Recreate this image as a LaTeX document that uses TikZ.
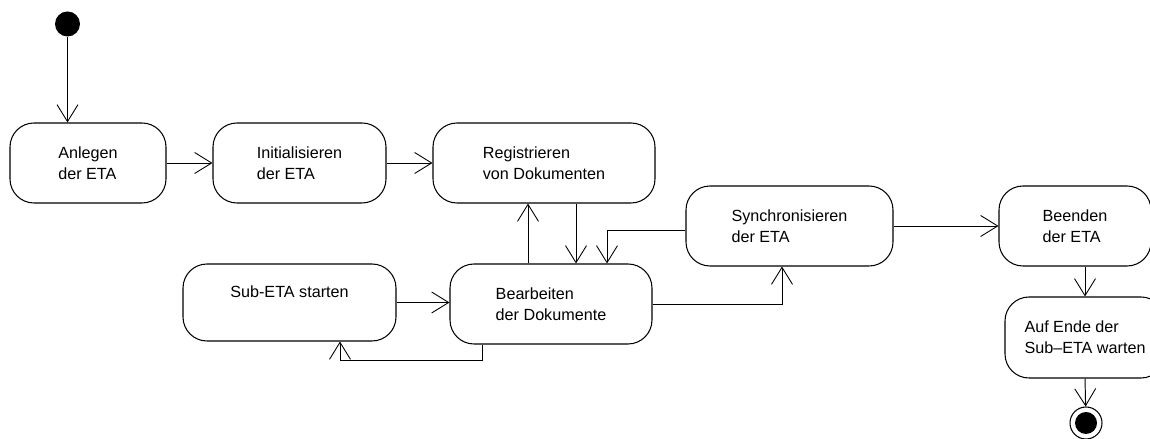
\documentclass[tikz,border=0pt]{standalone}
\usepackage{fontspec}
\setmainfont{Liberation Sans}
\usetikzlibrary{arrows.meta, positioning, calc}

\begin{document}
\begin{tikzpicture}[
    x=1cm, y=1cm,
    every node/.style={font=\fontsize{9.2}{12}\selectfont, align=left, text=black},
    action/.style={
      rectangle, rounded corners=0.48cm,
      draw=black, fill=white, line width=0.6pt,
      minimum height=1.60cm
    },
    startDot/.style={circle, fill=black, inner sep=0pt, minimum size=0.50cm},
    endDot/.style={
      circle, draw=black, fill=white, line width=0.6pt, inner sep=0pt, minimum size=0.64cm,
      path picture={\fill[black] (path picture bounding box.center) circle (0.22);}
    },
    flow/.style={-{Straight Barb[length=0.34cm, width=0.42cm, line width=0.5pt]}, draw=black, line width=0.55pt}
  ]
    \useasboundingbox (0,0) rectangle (23,8.78);

    \node[startDot] (start) at (1.35,8.30) {};

    \node[action, minimum width=3.12cm] (anlegen) at (1.76,5.52) {Anlegen\\der ETA};
    \node[action, minimum width=3.46cm] (init) at (5.99,5.52) {Initialisieren\\der ETA};
    \node[action, minimum width=4.44cm] (regist) at (10.88,5.52) {Registrieren\\von Dokumenten};
    \node[action, minimum width=4.14cm] (sync) at (15.79,4.26) {Synchronisieren\\der ETA};
    \node[action, minimum width=3.04cm] (beenden) at (21.50,4.26) {Beenden\\der ETA};
    \node[action, minimum width=4.26cm, minimum height=1.54cm] (subeta) at (5.79,2.73)
      {Sub-ETA starten\\\mbox{}};
    \node[action, minimum width=4.04cm] (bearb) at (11.02,2.70) {Bearbeiten\\der Dokumente};
    \node[action, minimum width=3.20cm, minimum height=1.62cm] (aufende) at (21.70,2.03)
      {Auf Ende der\\Sub–ETA warten};

    \node[endDot] (end) at (21.72,0.32) {};

    \draw[flow] (start) -- (start |- anlegen.north);
    \draw[flow] (anlegen.east) -- (init.west);
    \draw[flow] (init.east) -- (regist.west);
    \draw[flow] ([xshift=0.64cm]regist.south) -- ([xshift=0.50cm]bearb.north);
    \draw[flow] ([xshift=-0.46cm]bearb.north) -- ([xshift=-0.32cm]regist.south);
    \draw[flow] ([yshift=-0.08cm]sync.west) -| ([xshift=1.12cm]bearb.north);
    \draw[flow] (bearb.east) -| ([xshift=-0.15cm]sync.south);
    \draw[flow] (sync.east) -- (beenden.west);
    \draw[flow] (subeta.east) -- (subeta.east -| bearb.west);
    \draw[flow] ([xshift=-1.38cm]bearb.south) -- ++(0,-0.32) -| ([xshift=1.01cm]subeta.south);
    \draw[flow] (aufende.north |- beenden.south) -- (aufende.north);
    \draw[flow] (aufende.south) -- (end);
  \end{tikzpicture}
\end{document}
